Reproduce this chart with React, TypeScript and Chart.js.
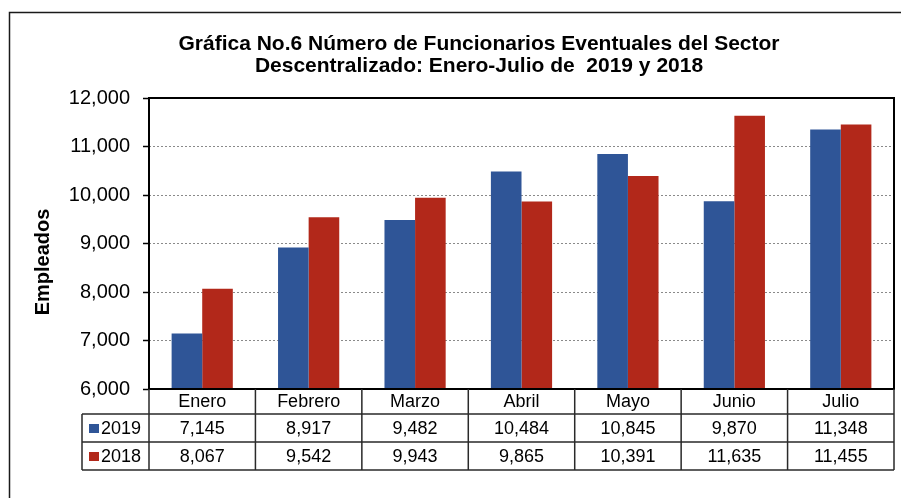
import React, { useEffect, useRef } from "react";
import { Chart, registerables } from "chart.js";

Chart.register(...registerables);

const categories = ["Enero", "Febrero", "Marzo", "Abril", "Mayo", "Junio", "Julio"];
const seriesLabels = ["2019", "2018"];
const values2019 = [7145, 8917, 9482, 10484, 10845, 9870, 11348];
const values2018 = [8067, 9542, 9943, 9865, 10391, 11635, 11455];
const seriesColors = ["#2F5597", "#B2281A"];
const yMin = 6000;
const yMax = 12000;
const yStep = 1000;
const titleLines = [
  "Gráfica No.6 Número de Funcionarios Eventuales del Sector",
  "Descentralizado: Enero-Julio de  2019 y 2018",
];
const yTitle = "Empleados";

const FONT = "'Liberation Sans', Arial, Helvetica, sans-serif";
const fmt = (v: number) => v.toLocaleString("en-US");

const decorPlugin = {
  id: "decor",
  afterDraw(chart: any) {
    const { ctx, chartArea: ca } = chart;
    const x = chart.scales.x;
    ctx.save();

    // outer frame (left and top visible)
    ctx.strokeStyle = "#1a1a1a";
    ctx.lineWidth = 1.5;
    ctx.beginPath();
    ctx.moveTo(9.5, 498);
    ctx.lineTo(9.5, 12.5);
    ctx.lineTo(901, 12.5);
    ctx.stroke();

    // title
    ctx.fillStyle = "#000";
    ctx.font = `bold 21px ${FONT}`;
    ctx.textAlign = "center";
    ctx.textBaseline = "alphabetic";
    ctx.fillText(titleLines[0], 479, 50);
    ctx.fillText(titleLines[1], 479, 72);

    // y title
    ctx.save();
    ctx.translate(43, 262);
    ctx.rotate(-Math.PI / 2);
    ctx.font = `bold 20px ${FONT}`;
    ctx.textBaseline = "middle";
    ctx.textAlign = "center";
    ctx.fillText(yTitle, 0, 0);
    ctx.restore();

    // plot border
    ctx.strokeStyle = "#000";
    ctx.lineWidth = 2;
    ctx.strokeRect(ca.left, ca.top, ca.right - ca.left, ca.bottom - ca.top);

    // data table
    const n = categories.length;
    const catW = (x.right - x.left) / n;
    const headerH = 25;
    const rowH = 28;
    const tTop = ca.bottom;
    const r1 = tTop + headerH;
    const r2 = r1 + rowH;
    const tBot = r2 + rowH;
    const legendLeft = 82;

    ctx.strokeStyle = "#2a2a2a";
    ctx.lineWidth = 1.5;
    ctx.beginPath();
    [r1, r2, tBot].forEach((yy) => {
      ctx.moveTo(legendLeft, yy);
      ctx.lineTo(ca.right, yy);
    });
    ctx.moveTo(legendLeft, r1);
    ctx.lineTo(legendLeft, tBot);
    for (let i = 0; i <= n; i++) {
      const xx = x.left + i * catW;
      ctx.moveTo(xx, tTop);
      ctx.lineTo(xx, tBot);
    }
    ctx.stroke();

    ctx.font = `18px ${FONT}`;
    ctx.fillStyle = "#000";
    ctx.textAlign = "center";
    ctx.textBaseline = "middle";
    const series = [values2019, values2018];
    categories.forEach((c, i) => {
      const cx = x.getPixelForValue(i);
      ctx.fillText(c, cx, tTop + headerH / 2 + 1);
      series.forEach((vals, s) => {
        ctx.fillText(fmt(vals[i]), cx, r1 + s * rowH + rowH / 2 + 1);
      });
    });
    seriesLabels.forEach((lab, s) => {
      const cy = r1 + s * rowH + rowH / 2;
      ctx.fillStyle = seriesColors[s];
      ctx.fillRect(89, cy - 4, 10, 9);
      ctx.fillStyle = "#000";
      ctx.textAlign = "left";
      ctx.fillText(lab, 101, cy + 1);
    });

    ctx.restore();
  },
};

export default function App() {
  const ref = useRef<HTMLCanvasElement | null>(null);

  useEffect(() => {
    if (!ref.current) return;
    const chart = new Chart(ref.current, {
      type: "bar",
      data: {
        labels: categories,
        datasets: [
          {
            label: seriesLabels[0],
            data: values2019,
            backgroundColor: seriesColors[0],
            borderWidth: 0,
            categoryPercentage: 0.575,
            barPercentage: 1,
          },
          {
            label: seriesLabels[1],
            data: values2018,
            backgroundColor: seriesColors[1],
            borderWidth: 0,
            categoryPercentage: 0.575,
            barPercentage: 1,
          },
        ],
      },
      options: {
        animation: false,
        responsive: false,
        layout: { padding: { top: 98, bottom: 109, right: 7, left: 0 } },
        plugins: {
          legend: { display: false },
          title: { display: false },
          tooltip: { enabled: false },
        },
        scales: {
          x: { display: false },
          y: {
            min: yMin,
            max: yMax,
            afterFit: (scale: any) => {
              scale.width = 149;
            },
            ticks: {
              stepSize: yStep,
              color: "#000",
              padding: 13,
              font: { family: FONT, size: 20 },
              callback: (v: any) => fmt(Number(v)),
            },
            grid: {
              color: "#8a8a8a",
              lineWidth: 1,
              tickLength: 6,
              tickColor: "#000",
              tickWidth: 1.5,
              tickBorderDash: [],
            },
            border: { display: false, dash: [2, 2] },
          },
        },
      },
      plugins: [decorPlugin],
    });
    return () => chart.destroy();
  }, []);

  return (
    <div style={{ position: "fixed", left: 0, top: 0, width: 901, height: 498, background: "#fff" }}>
      <canvas ref={ref} width={901} height={498} />
    </div>
  );
}
